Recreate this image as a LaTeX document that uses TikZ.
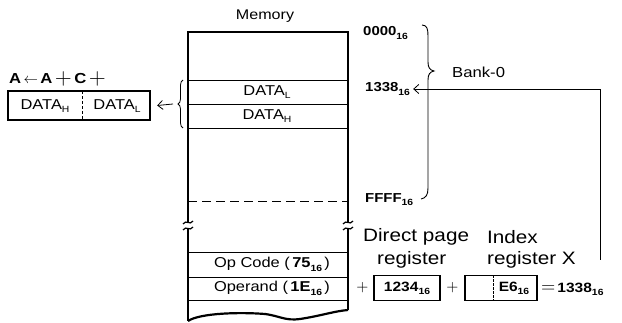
\documentclass[tikz,border=0pt]{standalone}
\usepackage{fontspec}
\usepackage{graphicx}
\setmainfont{Liberation Sans}[FakeStretch=1.15]
\usetikzlibrary{decorations.pathreplacing,arrows.meta}
\newcommand\lo[2][9]{\raisebox{-0.45ex}{\fontsize{#1}{#1}\selectfont #2}}
\newcommand\bigplus{\raisebox{-0.15ex}{\scalebox{1.55}{\mdseries$+$}}}
\newcommand\bigeq{\raisebox{-0.1ex}{\scalebox{1.3}{\mdseries$=$}}}
\begin{document}
\begin{tikzpicture}[x=1pt,y=-1pt,
  edgeline/.style={line width=2.2pt},
  rowline/.style={line width=0.8pt},
  lbl/.style={inner sep=0pt,font=\fontsize{14.3}{16}\selectfont},
  addr/.style={inner sep=0pt,anchor=west,font=\fontsize{13}{15}\selectfont\bfseries},
  big/.style={inner sep=0pt,font=\fontsize{18}{20}\selectfont},
  openarrow/.style={-{Straight Barb[length=5pt,width=9pt,line width=0.8pt]},line width=0.8pt}]
\useasboundingbox (0,0) rectangle (622,323);
% memory title
\node[inner sep=0pt,font=\fontsize{14}{16}\selectfont] (mem) at (265,16.5) {Memory};
% memory column
\draw[edgeline] (188,222) -- (188,32) -- (348,32) -- (348,222);
\draw[edgeline] (188,229) -- (188,321);
\draw[edgeline] (348,229) -- (348,310);
\draw[edgeline] (188,321) .. controls (200,313) and (240,312) .. (265,314)
  .. controls (280,316) and (285,321) .. (300,319)
  .. controls (320,316) and (335,311) .. (348,310);
\foreach \y in {80,104,128,252,277,300} \draw[rowline] (188,\y) -- (348,\y);
\draw[rowline,dash pattern=on 9pt off 5pt] (188,201) -- (348,201);
% break marks
\foreach \x in {188,348}{
  \draw[line width=1.2pt] (\x-5,224) .. controls (\x-2,219) and (\x+2,226) .. (\x+5,221);
  \draw[line width=1.2pt] (\x-5,230) .. controls (\x-2,225) and (\x+2,232) .. (\x+5,227);
}
% memory contents
\node[lbl] (dl) at (267,92) {DATA\lo{L}};
\node[lbl] (dh) at (267,116) {DATA\lo{H}};
\node[lbl] (op) at (272,264.5) {Op Code (\,\textbf{75\lo{16}}\,)};
\node[lbl] (opd) at (272,288.5) {Operand (\,\textbf{1E\lo{16}}\,)};
% addresses
\node[addr] (a0) at (363,33) {0000\lo{16}};
\node[addr] (a1338) at (365,89) {1338\lo{16}};
\node[addr] (affff) at (365,200) {FFFF\lo{16}};
% right brace
\draw[line width=0.9pt] (422,25) .. controls (427,25) and (428,29) .. (428,36)
  -- (428,62) .. controls (428,68) and (430,70) .. (434,71)
  .. controls (430,72) and (428,74) .. (428,80)
  -- (428,188) .. controls (428,195) and (426,198) .. (421,199);
\node[inner sep=0pt,anchor=west,font=\fontsize{14.5}{17}\selectfont] (bank) at (452,72) {Bank-0};
% registers
\node[big,anchor=west] (dp1) at (363,237) {Direct page};
\node[big,anchor=west] (dp2) at (377,260) {register};
\node[big,anchor=west] (ix1) at (487,237) {Index};
\node[big,anchor=west] (ix2) at (487,260) {register X};
\node[inner sep=0pt] (p1) at (362.5,288) {\bigplus};
\node[draw,line width=1.8pt,minimum width=66pt,minimum height=25pt,inner sep=0pt,
  font=\fontsize{13.5}{15}\selectfont\bfseries] (dpr) at (407,288) {1234\lo{16}};
\node[inner sep=0pt] (p2) at (452.5,288) {\bigplus};
\node[draw,line width=1.2pt,minimum width=72pt,minimum height=25pt,inner sep=0pt] (ixr) at (501,288) {};
\draw[line width=0.8pt,dash pattern=on 2.5pt off 1.5pt] (493,275.5) -- (493,300.5);
\node[inner sep=0pt,font=\fontsize{13.5}{15}\selectfont\bfseries] (e6) at (514,288.5) {E6\lo{16}};
\node[inner sep=0pt,anchor=west,font=\fontsize{13.5}{15}\selectfont\bfseries] (res) at (541,289) {\bigeq\kern2pt 1338\lo{16}};
% arrow back to address
\coordinate (arrstart) at (600,260);
\draw[openarrow] (arrstart) |- ([xshift=3pt]a1338.east);
% left: accumulator
\node[inner sep=0pt,anchor=west,font=\fontsize{14.5}{16}\selectfont\bfseries] (eq) at (9,79)
  {A\,{\mdseries$\leftarrow$}\,A\,\bigplus\,C\,\bigplus};
\node[draw,line width=2.4pt,minimum width=142pt,minimum height=29pt,inner sep=0pt] (acc) at (79,105.5) {};
\draw[line width=0.8pt,dash pattern=on 3pt off 2pt] (82,91) -- (82,120);
\node[lbl] (ah) at (45,106) {DATA\lo{H}};
\node[lbl] (al) at (117,106) {DATA\lo{L}};
% left brace
\draw[line width=0.8pt,decorate,decoration={brace,amplitude=5pt}] (183,128) -- (183,80);
\coordinate (btip) at (173,104);
\draw[openarrow] (btip) -- ([xshift=6pt]acc.east);
\end{tikzpicture}
\end{document}
